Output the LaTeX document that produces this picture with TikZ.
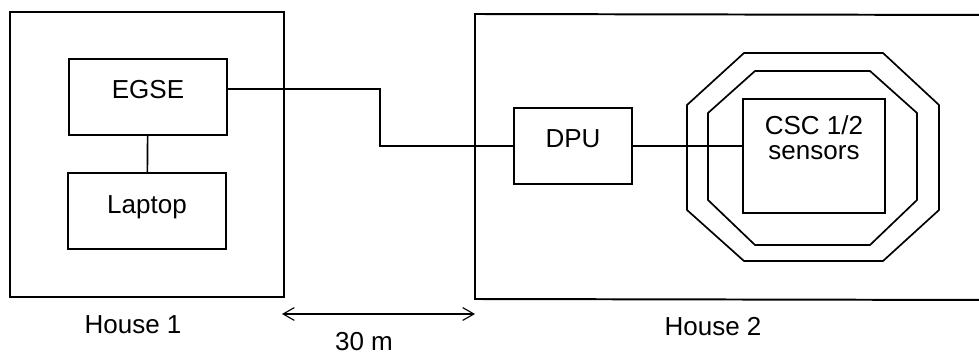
\documentclass[tikz,border=0pt]{standalone}
\usepackage{fontspec}
\setmainfont{Liberation Sans}
\usetikzlibrary{arrows.meta}

\tikzset{
  wall/.style={line width=1.4pt},
  shield/.style={line width=1.2pt, line join=miter},
  unit/.style={draw, line width=1.4pt, inner sep=0pt},
  oneline/.style={text height=0.45cm, text depth=0.35cm},
  wire/.style={line width=0.8pt},
}

\begin{document}
\begin{tikzpicture}[x=0.025cm, y=-0.025cm, font=\fontsize{18.5}{20}\selectfont]
  \useasboundingbox (0,0) rectangle (979,354);

  % the two houses
  \draw[wall] (10,12) rectangle (284,297);
  \draw[wall] (995,15) -- (475,14) -- (475,299) -- (995,300);

  % shielding round the sensors
  \draw[shield] (744,53) -- (883,53) -- (939,105) -- (939,210) -- (883,261)
    -- (744,261) -- (687,210) -- (687,105) -- cycle;
  \draw[shield] (755,71) -- (870,71) -- (917,113) -- (917,200) -- (870,245)
    -- (755,245) -- (708,200) -- (708,113) -- cycle;

  \node[unit, oneline, minimum width=3.95cm, minimum height=1.9cm] (egse) at (148,97) {EGSE};
  \node[unit, oneline, minimum width=3.95cm, minimum height=1.9cm] (laptop) at (147,211) {Laptop};
  \node[unit, oneline, minimum width=2.95cm, minimum height=1.9cm] (dpu) at (573,146) {DPU};
  \node[unit, align=center, minimum width=3.55cm, minimum height=2.85cm] (csc) at (814,156)
    {CSC 1/2\\[-2pt]sensors\\[6pt]};

  \coordinate (bend) at (380,146);
  \draw[wire, line width=1.2pt] (egse) -- (laptop);
  \draw[wire] ([yshift=0.2cm]egse.east) -| (bend) -- (dpu.west);
  \draw[wire] (dpu.east) -- (dpu.east -| csc.west);

  % distance between the houses
  \coordinate (gapl) at (282,314);
  \coordinate (gapr) at (475,314);
  \draw[wire, {Straight Barb[length=0.28cm,width=0.32cm]}-{Straight Barb[length=0.28cm,width=0.32cm]}] (gapl) -- (gapr);

  \node[anchor=base] (house1) at (133,333) {House 1};
  \node[anchor=base] (dist) at (364,350) {30 m};
  \node[anchor=base] (house2) at (713,335) {House 2};
\end{tikzpicture}
\end{document}
